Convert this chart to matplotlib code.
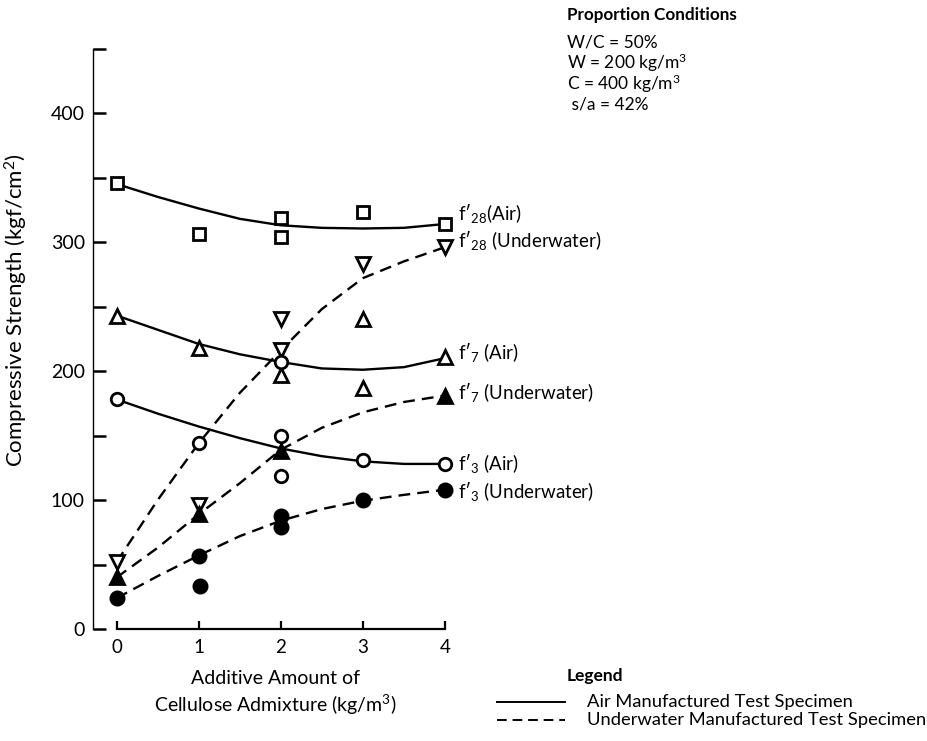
import matplotlib
matplotlib.use("Agg")
import matplotlib.pyplot as plt
from matplotlib.lines import Line2D
from matplotlib.ticker import FixedLocator, NullFormatter

plt.rcParams['font.family'] = ['Lato', 'DejaVu Sans']
plt.rcParams['mathtext.fontset'] = 'custom'
plt.rcParams['mathtext.rm'] = 'Lato'
plt.rcParams['mathtext.it'] = 'Lato:italic'
plt.rcParams['mathtext.bf'] = 'Lato:bold'

# ---------------- data ----------------
amount_ticks = [0, 1, 2, 3, 4]
fit_x = [0, 0.5, 1, 1.5, 2, 2.5, 3, 3.5, 4]

f28_air_x = [0, 1, 2, 2, 3, 4]
f28_air_y = [346, 306, 319, 304, 323, 314]
f28_air_fit = [345, 335, 326, 318, 313, 311, 310.5, 311, 314]

f28_uw_x = [0, 1, 2, 2, 3, 4]
f28_uw_y = [52, 96, 240, 216, 283, 296]
f28_uw_fit = [52, 100, 144, 183, 216, 248, 272, 285, 296]

f7_air_x = [0, 1, 2, 3, 3, 4]
f7_air_y = [243, 218, 197, 240, 187, 211]
f7_air_fit = [243, 232, 221, 213, 207, 202, 201, 203, 210]

f7_uw_x = [0, 1, 2, 4]
f7_uw_y = [40, 89, 138, 181]
f7_uw_fit = [40, 63, 89, 113, 139, 156, 168, 176, 181]

f3_air_x = [0, 1, 2, 2, 2, 3, 4]
f3_air_y = [178, 144, 150, 119, 207, 131, 128]
f3_air_fit = [178, 167, 157, 148, 140, 134, 130, 128, 128]

f3_uw_x = [0, 1, 1.02, 2, 2, 3, 4]
f3_uw_y = [24, 57, 33, 88, 79, 100, 108]
f3_uw_fit = [24, 41, 57, 72, 84, 93, 99.5, 104, 108]

y_major = [0, 100, 200, 300, 400]
y_minor = [50, 150, 250, 350, 450]

series_labels = ["f\u2032$_{28}$(Air)",
                 "f\u2032$_{28}$ (Underwater)",
                 "f\u2032$_{7}$ (Air)",
                 "f\u2032$_{7}$ (Underwater)",
                 "f\u2032$_{3}$ (Air)",
                 "f\u2032$_{3}$ (Underwater)"]
label_y = [322.5, 301.5, 214, 183, 128.7, 106.4]

# ---------------- figure ----------------
fig = plt.figure(figsize=(9.28, 7.41), dpi=100)
ax = fig.add_axes([0.1005, 0.1511, 0.3922, 0.7834])
ax.set_xlim(-0.285, 4.15)
ax.set_ylim(0, 450)

solid = dict(color='black', lw=1.7, solid_capstyle='round', solid_joinstyle='round')
dashed = dict(color='black', lw=1.7, linestyle=(0, (5, 3)))

ax.plot(fit_x, f28_air_fit, **solid)
ax.plot(fit_x, f7_air_fit, **solid)
ax.plot(fit_x, f3_air_fit, **solid)
ax.plot(fit_x, f28_uw_fit, **dashed)
ax.plot(fit_x, f7_uw_fit, **dashed)
ax.plot(fit_x, f3_uw_fit, **dashed)

mk = dict(linestyle='none', mec='black', mew=2.0, zorder=5)
ax.plot(f28_air_x, f28_air_y, marker='s', ms=9, mfc='white', **mk)
ax.plot(f28_uw_x, f28_uw_y, marker='v', ms=9.5, mfc='white', **mk)
ax.plot(f7_air_x, f7_air_y, marker='^', ms=9.5, mfc='white', **mk)
ax.plot(f7_uw_x, f7_uw_y, marker='^', ms=9.5, mfc='black', **mk)
ax.plot(f3_air_x, f3_air_y, marker='o', ms=9, mfc='white', **mk)
ax.plot(f3_uw_x, f3_uw_y, marker='o', ms=9.5, mfc='black', **mk)

for txt, yy in zip(series_labels, label_y):
    ax.text(4.16, yy, txt, fontsize=13.5, va='center', ha='left', clip_on=False)

# spines / ticks
for s in ['top', 'right']:
    ax.spines[s].set_visible(False)
ax.spines['left'].set_bounds(0, 450)
ax.spines['left'].set_linewidth(1.0)
ax.spines['bottom'].set_bounds(0, 4)
ax.spines['bottom'].set_linewidth(1.6)

ax.xaxis.set_major_locator(FixedLocator(amount_ticks))
ax.yaxis.set_major_locator(FixedLocator(y_major))
ax.yaxis.set_minor_locator(FixedLocator(y_minor))
ax.yaxis.set_minor_formatter(NullFormatter())
ax.tick_params(axis='y', which='both', direction='in', length=9, width=1.8,
               labelsize=14, pad=6)
ax.tick_params(axis='x', which='major', direction='in', length=6, width=1.6,
               labelsize=13.5, pad=7)

ax.set_xlabel("Additive Amount of\nCellulose Admixture (kg/m$^3$)",
              fontsize=14, linespacing=1.3, labelpad=10)
ax.set_ylabel("Compressive Strength (kgf/cm$^2$)", fontsize=16)
ax.yaxis.set_label_coords(-0.174, 0.55)

# proportion conditions
fig.text(567 / 928, 1 - 15 / 741, "Proportion Conditions", fontsize=12.3,
         fontweight='bold', va='center', ha='left')
cond_lines = ["W/C = 50%", "W = 200 kg/m$^3$", "C = 400 kg/m$^3$", " s/a = 42%"]
cond_y = [42, 63, 84, 104]
for t, yy in zip(cond_lines, cond_y):
    fig.text(567 / 928, 1 - yy / 741, t, fontsize=12.5, va='center', ha='left')

# legend (manual)
fig.text(567 / 928, 1 - 676 / 741, "Legend", fontsize=12.5, fontweight='bold',
         va='center', ha='left')
fig.add_artist(Line2D([497 / 928, 565 / 928], [1 - 702 / 741, 1 - 702 / 741],
                      transform=fig.transFigure, color='black', lw=1.4))
fig.add_artist(Line2D([497 / 928, 565 / 928], [1 - 720 / 741, 1 - 720 / 741],
                      transform=fig.transFigure, color='black', lw=1.4,
                      linestyle=(0, (5, 3))))
fig.text(587 / 928, 1 - 702 / 741, "Air Manufactured Test Specimen", fontsize=13.2,
         va='center', ha='left')
fig.text(587 / 928, 1 - 720 / 741, "Underwater Manufactured Test Specimen",
         fontsize=13.2, va='center', ha='left')

fig.savefig("out.png", dpi=100)
